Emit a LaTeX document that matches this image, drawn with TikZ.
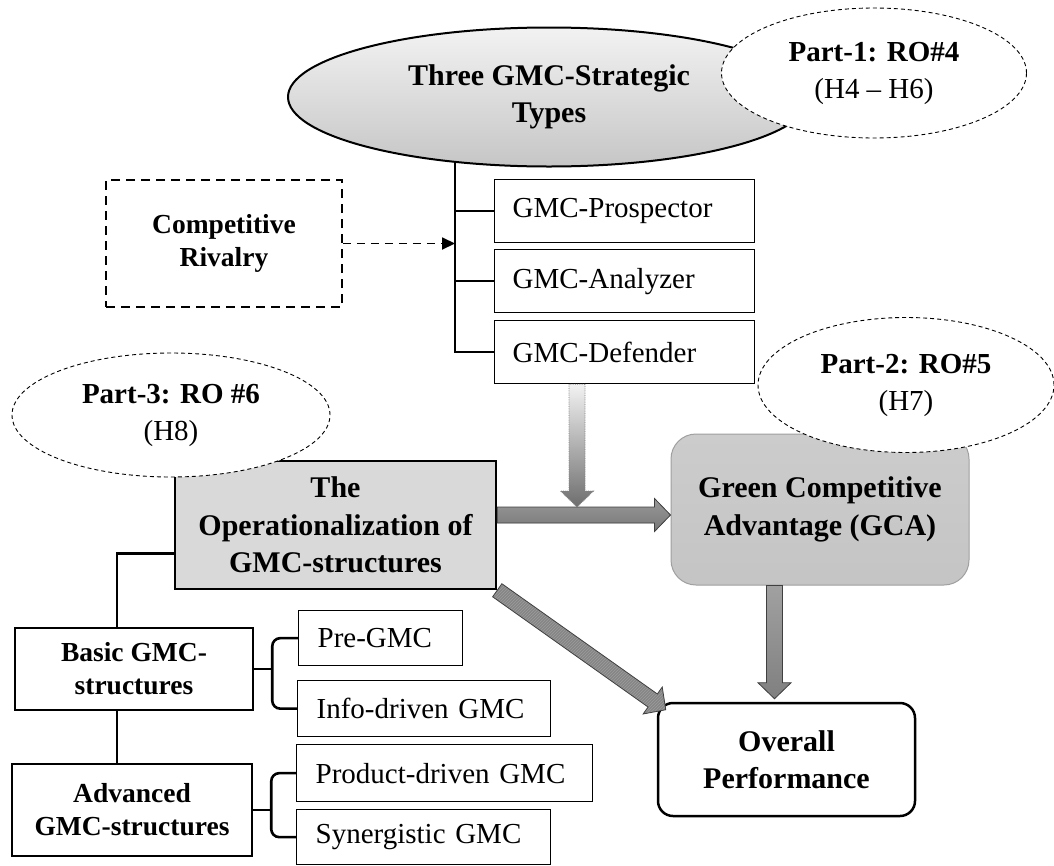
\documentclass[tikz,border=0pt]{standalone}
\usepackage{fontspec}
\setmainfont{Liberation Serif}
\usetikzlibrary{shapes.geometric,arrows.meta,calc,patterns}

\newcommand{\bigfont}{\fontsize{30}{37.5}\selectfont}
\newcommand{\subfont}{\fontsize{27.5}{33}\selectfont}
\newcommand{\itemfont}{\fontsize{29}{35}\selectfont}

% block arrow from #2 to #3
\newcommand{\blockarrow}[3][]{%
  \coordinate (ba-h) at ($(#3)!16pt!(#2)$);
  \draw[#1] ($(#2)!8pt!90:(#3)$) -- ($(ba-h)!8pt!90:(#3)$) -- ($(ba-h)!16.5pt!90:(#3)$)
    -- (#3) -- ($(ba-h)!16.5pt!-90:(#3)$) -- ($(ba-h)!8pt!-90:(#3)$) -- ($(#2)!8pt!-90:(#3)$) -- cycle;}

\tikzset{
  head/.style={font=\bfseries\bigfont, align=center},
  typebox/.style={draw, line width=1.3pt, anchor=north west, minimum height=63pt,
    inner xsep=18pt, text width=224pt, font=\itemfont},
  itembox/.style={draw, line width=1.3pt, anchor=north west, inner xsep=19pt, font=\itemfont},
  levelbox/.style={draw, line width=2.5pt, align=center, font=\bfseries\subfont},
  rocloud/.style={ellipse, draw, dash pattern=on 4pt off 3pt, line width=0.9pt, fill=white,
    align=center, font=\fontsize{29}{37}\selectfont, inner sep=0pt},
  tree/.style={line width=2.6pt},
  bigarrow/.style={draw=gray!50!black, line width=0.8pt, fill=gray!90},
}

\begin{document}
\begin{tikzpicture}[x=1pt, y=-1pt]
    \useasboundingbox (0,0) rectangle (1054,865);
    % strategic types
    \node[ellipse, draw, line width=2pt, top color=gray!10, bottom color=gray!45,
      minimum width=522pt, minimum height=139pt, inner sep=0pt, head] (strat) at (549,97) {Three GMC-Strategic\\Types};
    \node[rocloud, minimum width=305pt, minimum height=130pt] (part1) at (874,73) {\textbf{Part-1: RO\#4}\\(H4 – H6)};
    \node[typebox] (prosp) at (494,179) {GMC-Prospector};
    \node[typebox] (analy) at (494,249) {GMC-Analyzer};
    \node[typebox] (defend) at (494,320) {GMC-Defender};
    \draw[tree] (strat.215) |- (defend.west);
    \draw[tree] (prosp.west) -- (prosp.west -| strat.215);
    \draw[tree] (analy.west) -- (analy.west -| strat.215);
    % rivalry
    \node[draw, line width=1.8pt, dash pattern=on 9pt off 6pt, minimum width=236pt, minimum height=127pt,
      align=center, font=\bfseries\subfont] (rival) at (224,243.5) {Competitive\\Rivalry};
    \draw[line width=1.8pt, dash pattern=on 8pt off 6pt, -{Triangle[length=13pt,width=12pt]}]
      (rival.east) -- (rival.east -| strat.215);
    % operationalization
    \node[draw, line width=2.5pt, fill=gray!30, minimum width=321pt, minimum height=128pt, head] (oper) at (335.5,525)
      {The\\Operationalization of\\GMC-structures};
    \node[rocloud, minimum width=318pt, minimum height=124pt] (part3) at (171,415) {\textbf{Part-3: RO \#6}\\(H8)};
    % competitive advantage
    \node[draw=gray!75, line width=1pt, rounded corners=25pt, top color=gray!40, bottom color=gray!46,
      minimum width=298pt, minimum height=151pt, head] (gca) at (820,509.5) {Green Competitive\\Advantage (GCA)};
    \node[rocloud, minimum width=296pt, minimum height=135pt] (part2) at (906,385) {\textbf{Part-2: RO\#5}\\(H7)};
    % performance
    \node[draw, line width=2.5pt, rounded corners=15pt, minimum width=257pt, minimum height=113pt, head]
      (overall) at (786.5,759.5) {Overall\\Performance};
    % structures
    \node[levelbox, minimum width=238pt, minimum height=82pt] (basic) at (134,669) {Basic GMC-\\structures};
    \node[levelbox, minimum width=240pt, minimum height=92pt] (adv) at (132,810) {Advanced\\GMC-structures};
    \node[itembox, minimum height=55pt, text width=126pt] (pre) at (298,610) {Pre-GMC};
    \node[itembox, minimum height=56pt, text width=215pt] (info) at (297,680) {Info-driven GMC};
    \node[itembox, minimum height=57pt, text width=258pt] (prod) at (296,744) {Product-driven GMC};
    \node[itembox, minimum height=55pt, text width=216pt] (syn) at (296,809) {Synergistic GMC};
    \coordinate (fork) at ($(basic.north west)!0.43!(basic.north east)$);
    \draw[tree] ($(oper.south west)!0.28!(oper.north west)$) -| (fork);
    \draw[tree] (basic.south -| fork) -- (adv.north -| fork);
    \draw[tree, rounded corners=8pt] (pre.west) -| ($(basic.east)+(18,0)$) |- (info.west);
    \draw[tree] (basic.east) -- ++(18,0);
    \draw[tree, rounded corners=8pt] (prod.west) -| ($(adv.east)+(18,0)$) |- (syn.west);
    \draw[tree] (adv.east) -- ++(18,0);
    % arrows
    \coordinate (hstart) at ($(oper.east)+(0,-10)$);
    \coordinate (hend) at (gca.west |- hstart);
    \coordinate (drop) at ($(defend.south west)+(83,0)$);
    \coordinate (dropend) at ($(drop |- hstart)+(0,-8)$);
    \coordinate (diagend) at ($(overall.north west)+(9,8)$);
    \coordinate (gcadrop) at ($(gca.south west)+(104,0)$);
    \coordinate (gcaend) at ($(gcadrop |- overall.north)+(0,-3)$);
    \blockarrow[bigarrow, top color=gray!80, bottom color=gray!93!black]{hstart}{hend}
    \blockarrow[draw=gray, densely dotted, line width=0.8pt, top color=gray!10, bottom color=gray!86!black]{drop}{dropend}
    \blockarrow[bigarrow, pattern=north east lines, pattern color=gray!78, preaction={fill=gray!95}]{oper.south east}{diagend}
    \blockarrow[bigarrow, top color=gray!74, bottom color=gray]{gcadrop}{gcaend}
\end{tikzpicture}
\end{document}
